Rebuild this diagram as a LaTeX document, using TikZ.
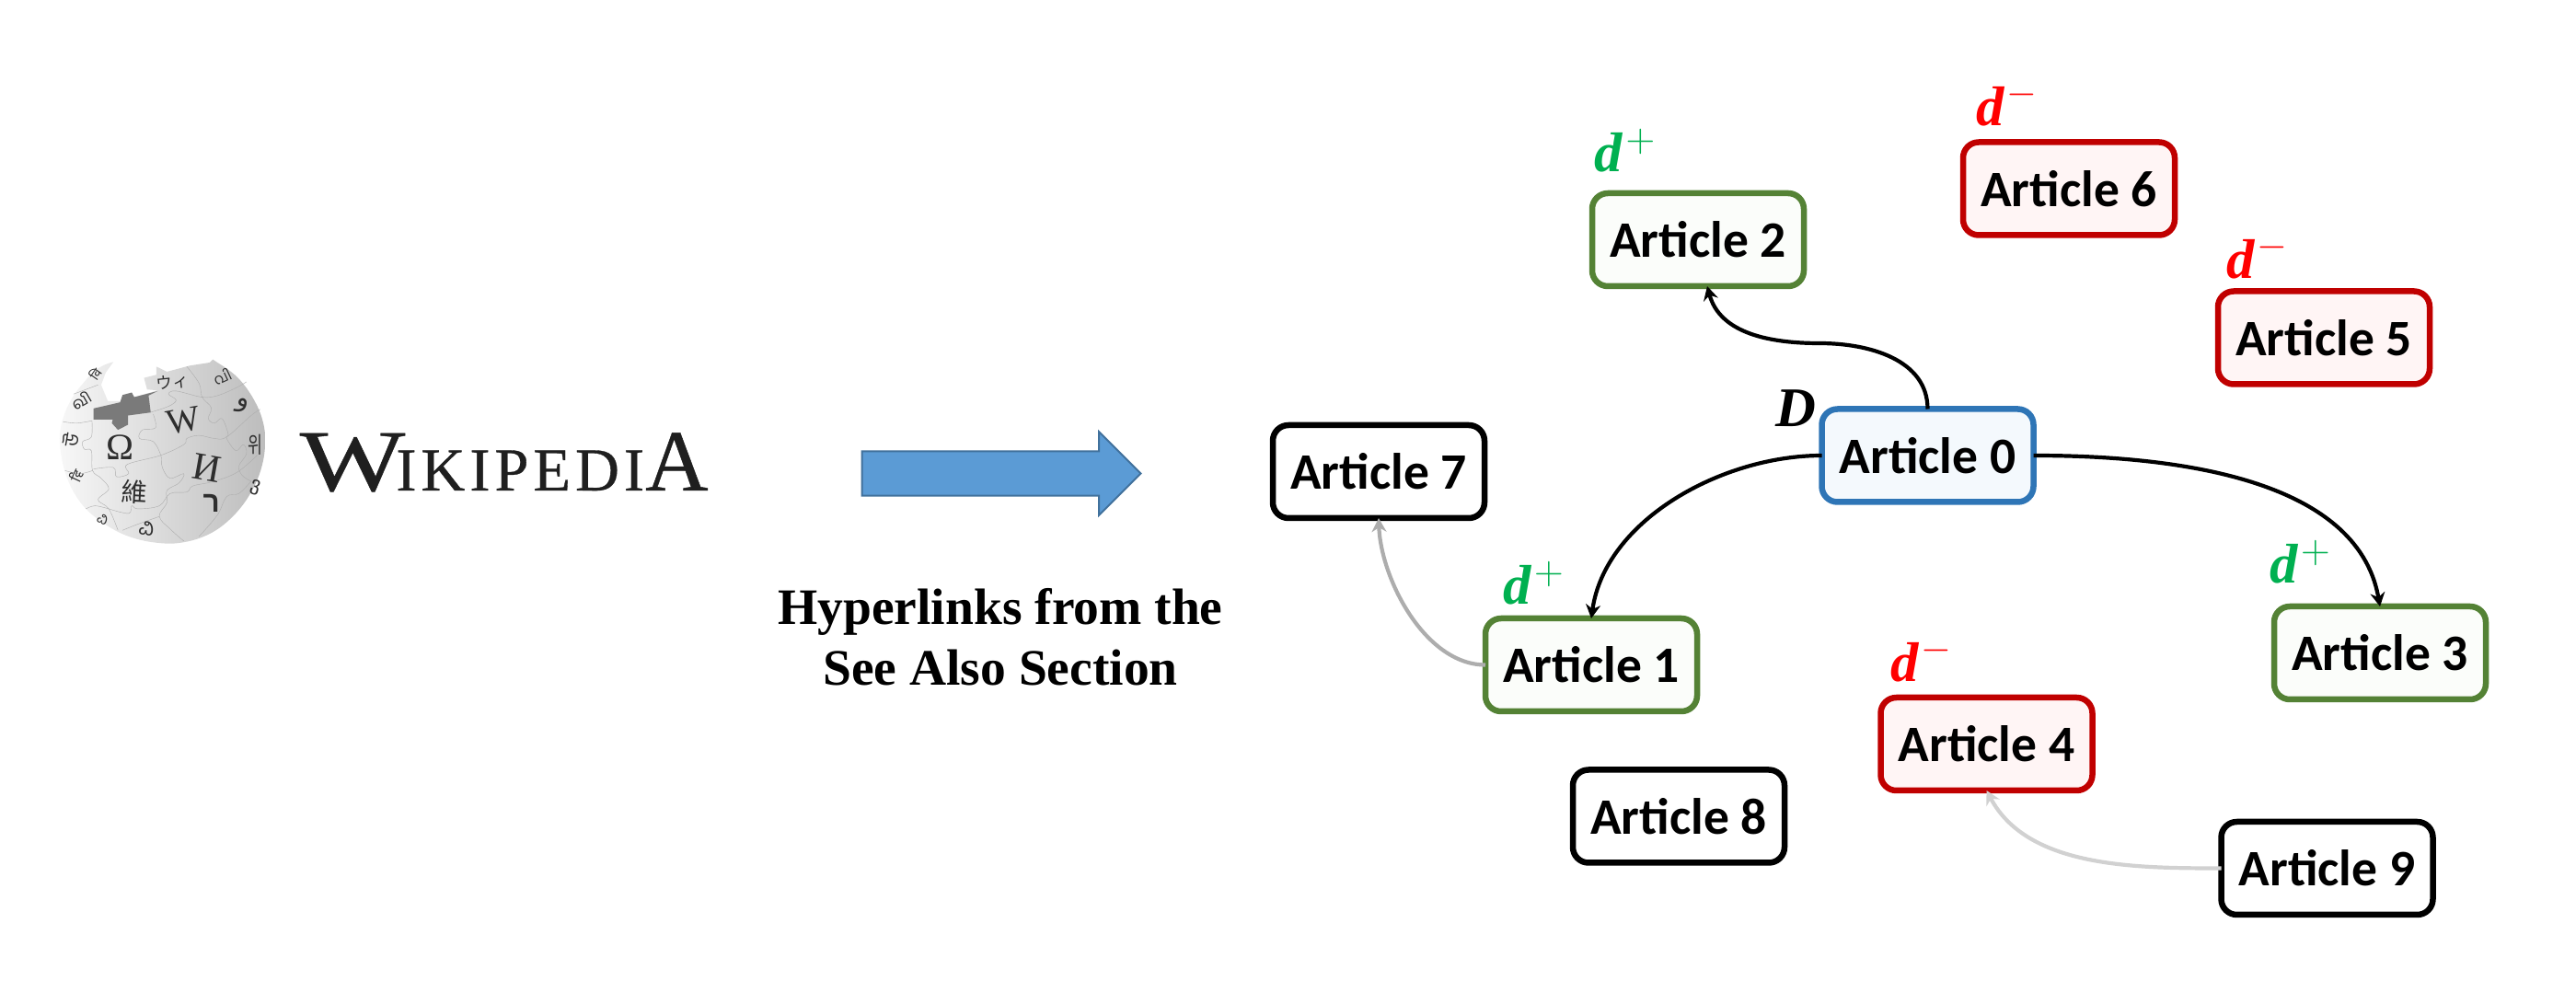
\documentclass[tikz,border=0pt]{standalone}
\usepackage{fontspec}
\setmainfont{Carlito}
\newfontfamily\timesfont{Liberation Serif}
\newfontfamily\logofont[FakeBold=0.5]{Liberation Serif}
\newfontfamily\cjkjp{Noto Sans CJK JP}
\newfontfamily\cjksc{Noto Sans CJK SC}
\newfontfamily\cjkkr{Noto Sans CJK KR}
\newfontfamily\arabicfont[Script=Arabic]{DejaVu Sans}
\newfontfamily\hebfont[Script=Hebrew]{Liberation Sans}
\newfontfamily\devafont[Script=Devanagari]{Noto Sans}
\newfontfamily\tamilfont[Script=Tamil]{Hind Madurai}
\newfontfamily\bengfont[Script=Bengali]{Hind Siliguri}
\newfontfamily\kannfont[Script=Kannada]{Hind Mysuru}
\newfontfamily\malafont[Script=Malayalam]{Hind Kochi}
\newfontfamily\gurufont[Script=Gurmukhi]{Hind Jalandhar}
\TeXXeTstate=1
\usetikzlibrary{arrows.meta,shapes.arrows}
\definecolor{seedline}{HTML}{2E75B6}
\definecolor{seedfill}{HTML}{F4F9FD}
\definecolor{posline}{HTML}{548235}
\definecolor{posfill}{HTML}{FBFDFA}
\definecolor{negline}{HTML}{C00000}
\definecolor{negfill}{HTML}{FFF5F5}
\definecolor{posmark}{HTML}{00B050}
\definecolor{negmark}{HTML}{FF0000}
\definecolor{flowfill}{HTML}{5B9BD5}
\definecolor{flowline}{HTML}{41719C}
\tikzset{
	article/.style = {draw, fill = white, rounded corners = 0.17cm,
		line width = 0.065cm, outer sep = 0pt,
		minimum width = 2.30cm, minimum height = 1.01cm,
		font = \fontsize{15.8}{18}\selectfont\bfseries},
	seedart/.style = {article, draw = seedline, fill = seedfill},
	posart/.style = {article, draw = posline, fill = posfill},
	negart/.style = {article, draw = negline, fill = negfill},
	dmark/.style = {inner sep = 0pt,
		font = \timesfont\fontsize{17.28}{20}\selectfont\bfseries\itshape},
	link/.style = {line width = 0.042cm,
		-{Stealth[length = 0.15cm, width = 0.16cm]}},
	glyph/.style = {inner sep = 0pt, text = black!82},
	seam/.style = {black!32, line width = 0.004cm, smooth, tension = 0.6}
}
\begin{document}
\begin{tikzpicture}
	\useasboundingbox (0,0) rectangle (27.99,-10.66);

	% globe, in pixels of its own
	\begin{scope}[shift = {(0.6,-3.8)}, x = 0.003333cm, y = -0.003333cm]
		\shade[left color = black!3, middle color = black!7, right color = black!26]
			plot[smooth, tension = 0.6] coordinates {
			(515,32) (530,42) (565,65) (600,95) (635,140) (665,195) (682,250)
			(686,300) (680,360) (660,425) (625,490) (580,545) (525,590) (465,618)
			(400,632) (345,632) (280,622) (215,600) (155,565) (100,520) (60,465)
			(32,400) (18,335) (15,275) (30,210) (60,150) (95,105) (125,72)
			(160,50) (190,40)}
			-- (165,75) -- (150,115) -- (172,168) -- (215,168) -- (222,148)
			-- (250,140) -- (258,155) -- (335,133) -- (300,130) -- (290,92)
			-- (330,82) -- (330,55) -- (365,72) -- (440,52) -- (505,42) -- cycle;
		\fill[black!52]
			(125,192) -- (212,172) -- (220,148) -- (250,140) -- (258,155)
			-- (335,135) -- (305,150) -- (312,205) -- (238,215) -- (238,245)
			-- (205,262) -- (185,240) -- (188,228) -- (125,228) -- cycle;

		\draw[seam] plot coordinates {(310,205) (370,185) (395,165) (370,145)
			(395,135) (480,155) (530,150) (590,125) (625,105)};
		\draw[seam] plot coordinates {(430,55) (470,110) (480,155) (510,190)
			(500,225) (520,240) (545,225) (565,275) (560,290) (590,330)
			(615,310) (625,340) (600,380) (610,410) (640,430)};
		\draw[seam] plot coordinates {(120,232) (118,285) (90,300) (95,325)
			(118,330) (122,395) (150,420) (175,455) (140,490) (175,520)
			(205,590)};
		\draw[seam] plot coordinates {(320,210) (328,255) (285,262) (275,290)
			(320,300) (345,345) (350,385) (375,420) (420,405) (405,435)
			(365,460) (365,500) (340,545) (380,590) (420,625)};
		\draw[seam] plot coordinates {(125,390) (190,385) (200,415) (240,405)
			(235,375) (345,345) (420,310) (430,290) (470,280) (520,290)
			(560,285) (640,215) (670,195)};
		\draw[seam] plot coordinates {(175,520) (240,535) (250,510) (270,520)
			(340,510) (375,470) (430,465) (450,445) (520,430) (595,400)
			(660,345)};
		\draw[seam] plot coordinates {(25,235) (70,240) (120,232)};
		\draw[seam] plot coordinates {(32,395) (80,405) (122,395)};
		\draw[seam] plot coordinates {(100,520) (130,510) (175,520)};
		\draw[seam] plot coordinates {(220,590) (270,570) (340,545)};
		\draw[seam] plot coordinates {(470,610) (530,540) (560,480) (600,470)
			(640,430)};
		\draw[seam] plot coordinates {(60,145) (100,130) (140,115)};

		\node[glyph, font = \timesfont\fontsize{11.5}{11}\selectfont] (omega) at (213,320) {Ω};
		\node[glyph, rotate = 10, font = \timesfont\fontsize{11}{11}\selectfont] (latin) at (420,232) {W};
		\node[glyph, rotate = -10, font = \timesfont\fontsize{12}{11}\selectfont] (cyril) at (495,385) {И};
		\node[glyph, rotate = -3, font = \cjksc\fontsize{8}{8}\selectfont] (hanzi) at (258,465) {維};
		\node[glyph, rotate = 6, font = \cjkjp\fontsize{5}{6}\selectfont] (kana) at (384,105) {ウィ};
		\node[glyph, xscale = 0.7, font = \cjkkr\fontsize{7}{8}\selectfont] (hangul) at (655,312) {위};
		\node[glyph, font = \hebfont\fontsize{9}{9}\selectfont\bfseries] (vav) at (510,502) {\beginR ר\endR};
		\node[glyph, rotate = -12, font = \arabicfont\fontsize{8}{9}\selectfont] (waw) at (612,182) {\beginR و\endR};
		\node[glyph, rotate = 25, font = \malafont\fontsize{4.5}{5}\selectfont] (mala) at (545,88) {വി};
		\node[glyph, rotate = 55, font = \devafont\fontsize{4}{5}\selectfont] (deva) at (132,78) {वि};
		\node[glyph, rotate = 30, font = \tamilfont\fontsize{5}{6}\selectfont] (tamil) at (85,165) {வி};
		\node[glyph, rotate = 80, font = \bengfont\fontsize{6}{7}\selectfont] (beng) at (50,295) {উ};
		\node[glyph, rotate = 65, font = \gurufont\fontsize{4.5}{5}\selectfont] (guru) at (68,412) {ਵਿ};
		\node[glyph, rotate = -25, font = \kannfont\fontsize{4.5}{5}\selectfont] (kann) at (155,555) {ವಿ};
		\node[glyph, rotate = -8, font = \kannfont\fontsize{6.5}{7}\selectfont] (kanb) at (298,585) {ವಿ};
		\node[glyph, rotate = -15, font = \arabicfont\fontsize{6}{7}\selectfont] (georg) at (655,450) {ვ};
	\end{scope}

	% word mark
	\node[anchor = base west, inner sep = 0pt, text = black!88,
		font = \logofont\fontsize{18.9}{20}\selectfont] (wordmark) at (3.25,-5.33)
		{\fontsize{27}{27}\selectfont\scalebox{1.28}[1]{W}\kern-0.1cm\fontsize{18.9}{20}\selectfont
		I\kern0.05cm K\kern0.05cm I\kern0.05cm P\kern0.05cm E\kern0.05cm D\kern0.05cm I\kern0.01cm\fontsize{27}{27}\selectfont A};

	% from the encyclopedia to the graph
	\node[single arrow, draw = flowline, fill = flowfill, line width = 0.02cm,
		minimum height = 3.03cm, minimum width = 0.91cm, inner sep = 0.225cm,
		single arrow head extend = 0.21cm, single arrow tip angle = 90,
		outer sep = 0pt] (flow) at (10.76,-5.145) {};
	\node[align = center, inner sep = 0pt,
		font = \timesfont\fontsize{15.8}{18.8}\selectfont\bfseries] (caption) at (10.87,-6.92)
		{Hyperlinks from the\\See Also Section};

	\node[seedart] (art0) at (20.945,-4.95) {Article 0};
	\node[posart] (art1) at (17.29,-7.225) {Article 1};
	\node[posart] (art2) at (18.45,-2.605) {Article 2};
	\node[posart] (art3) at (25.86,-7.095) {Article 3};
	\node[negart] (art4) at (21.585,-8.085) {Article 4};
	\node[negart] (art5) at (25.25,-3.67) {Article 5};
	\node[negart] (art6) at (22.48,-2.05) {Article 6};
	\node[article] (art7) at (14.98,-5.125) {Article 7};
	\node[article] (art8) at (18.24,-8.87) {Article 8};
	\node[article] (art9) at (25.285,-9.435) {Article 9};

	\node[dmark, text = posmark] (mark1) at (16.67,-6.34) {d\kern0.03cm$^{+}$};
	\node[dmark, text = posmark] (mark2) at (17.665,-1.64) {d\kern0.03cm$^{+}$};
	\node[dmark, text = posmark] (mark3) at (25.0,-6.11) {d\kern0.03cm$^{+}$};
	\node[dmark, text = negmark] (mark4) at (20.88,-7.17) {d\kern0.03cm$^{-}$};
	\node[dmark, text = negmark] (mark5) at (24.53,-2.79) {d\kern0.03cm$^{-}$};
	\node[dmark, text = negmark] (mark6) at (21.81,-1.13) {d\kern0.03cm$^{-}$};
	\node[dmark] (seedmark) at (19.51,-4.44) {D};

	\coordinate (bend2) at (19.77,-3.73);
	\draw[line width = 0.042cm] (art0.north) to[out = 90, in = 0] (bend2);
	\draw[link] (bend2) to[out = 180, in = -75] ([xshift = 0.1cm]art2.south);
	\draw[link] (art0.west) to[out = 180, in = 82, looseness = 0.9] (art1.north);
	\draw[link] (art0.east) to[out = 0, in = 100, looseness = 0.9] (art3.north);
	\draw[link, color = black!32] (art1.west) to[out = 180, in = -88, looseness = 0.85] (art7.south);
	\draw[link, color = black!18] (art9.west) to[out = 180, in = -62, looseness = 0.9] (art4.south);
\end{tikzpicture}
\end{document}
